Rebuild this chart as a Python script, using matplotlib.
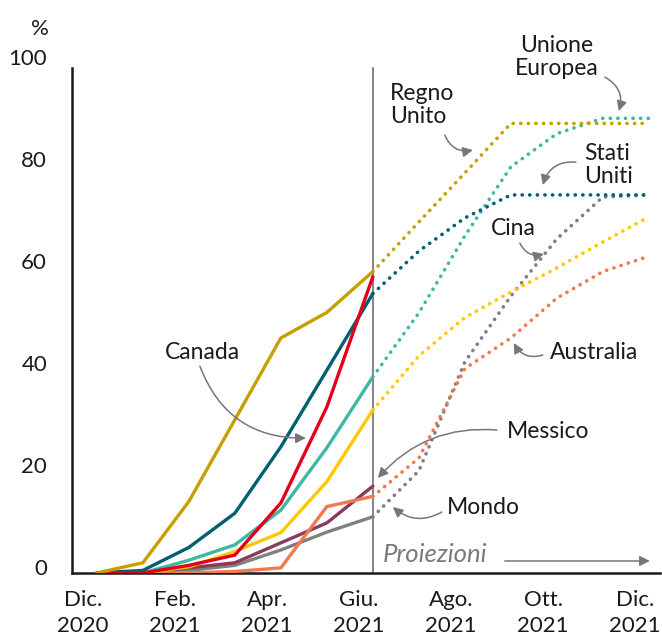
import numpy as np
import matplotlib
matplotlib.use("Agg")
import matplotlib.pyplot as plt
import matplotlib.transforms as mtransforms

plt.rcParams['font.family'] = ['Lato', 'DejaVu Sans']

# month index: 0 = Dec 2020 ... 12 = Dec 2021; 6 = June (last actual value)
months = np.arange(13)
tick_months = [0, 2, 4, 6, 8, 10, 12]
tick_labels = ["Dic.\n2020", "Feb.\n2021", "Apr.\n2021", "Giu.\n2021",
               "Ago.\n2021", "Ott.\n2021", "Dic.\n2021"]

# vaccinated share of population (%), Dec 2020 - Jun 2021 actual, Jun - Dec 2021 projected
uk = [0, 2, 14, 30, 46, 51, 59, 68.7, 78.3, 88, 88, 88, 88]
us = [0, 0.5, 5, 11.7, 24.7, 39.7, 54.7, 63, 69.5, 74, 74, 74, 74]
eu = [0, 0, 2.5, 5.5, 12.3, 24.5, 38.4, 50.9, 66, 79.5, 86, 89, 89]
canada = [0, 0, 1.5, 3.5, 13.7, 32.5, 58]
japan = [0, 0, 1.2, 4.2, 7.9, 17.9, 31.9, 42.5, 50, 55, 59.7, 64.8, 69.7]
australia = [0, 0, 0, 0.3, 1, 13, 15, 22.5, 40, 46, 53.8, 59, 62]
mexico = [0, 0, 1, 2, 5.9, 9.8, 17]
world = [0, 0, 0.5, 1.5, 4.5, 8, 11, 20, 41.3, 54.2, 65.4, 73.6, 74]

series = [
    (world, '#808080'),
    (mexico, '#8A3B5C'),
    (australia, '#F07A4E'),
    (japan, '#FFC800'),
    (eu, '#3DB8A3'),
    (us, '#00606F'),
    (canada, '#E2001A'),
    (uk, '#C89E00'),
]

fig = plt.figure(figsize=(6.62, 6.37), dpi=100)
ax = fig.add_axes([0.1088, 0.1005, 0.888, 0.802])

jun = 6
for values, color in series:
    values = np.asarray(values, dtype=float)
    x = months[:len(values)]
    ax.plot(x[:jun + 1], values[:jun + 1], color=color, lw=2.4,
            solid_capstyle='round', solid_joinstyle='miter', zorder=3)
    if len(values) > jun + 1:
        ax.plot(x[jun:], values[jun:], color=color, lw=2.6,
                linestyle=(0, (0.05, 2.05)), dash_capstyle='round', zorder=3)

ax.set_xlim(-0.54, 12.24)
ax.set_ylim(0, 100)

ax.axvline(jun, ymin=0, ymax=0.988, color='#707070', lw=1.2, zorder=2)

for side in ['top', 'right']:
    ax.spines[side].set_visible(False)
ax.spines['left'].set_bounds(0, 98.8)
for side in ['left', 'bottom']:
    ax.spines[side].set_linewidth(1.8)
    ax.spines[side].set_color('#1a1a1a')

ax.set_yticks([0, 20, 40, 60, 80, 100])
ax.tick_params(axis='y', length=0, pad=18, labelsize=16, labelcolor='#1a1a1a')
# y labels sit a little above their values
lift = mtransforms.ScaledTranslation(0, 4 / 72, fig.dpi_scale_trans)
for lab in ax.get_yticklabels():
    lab.set_transform(lab.get_transform() + lift)

ax.set_xticks([m - 0.3 for m in tick_months])
ax.set_xticklabels(tick_labels, linespacing=1.4)
ax.tick_params(axis='x', length=0, pad=12, labelsize=16, labelcolor='#1a1a1a')

fig.text(0.06, 0.955, "%", fontsize=16, color='#1a1a1a', ha='center', va='center')

arrow_color = '#777777'
label_kw = dict(fontsize=16.5, color='#1a1a1a')
arrow_style = '-|>,head_length=0.6,head_width=0.3'


def px(x, y):
    # pixel position in the figure to data coordinates
    return ((x - 97) / 46.0, (573 - y) / 5.11)


def pointer(start, end, rad):
    conn = "arc3" if rad == 0 else f"arc3,rad={rad}"
    ax.annotate("", xy=px(*end), xytext=px(*start),
                arrowprops=dict(arrowstyle=arrow_style, color=arrow_color, lw=1.1,
                                connectionstyle=conn, shrinkA=0, shrinkB=0))


ax.text(*px(203, 352), "Canada", ha='center', va='center', **label_kw)
pointer((200, 366), (306, 438), 0.35)

ax.text(*px(390, 105), "Regno\nUnito", ha='left', va='center', linespacing=1.15, **label_kw)
pointer((445, 135), (473, 150), 0.4)

ax.text(*px(557, 57), "Unione\nEuropea", ha='center', va='center', linespacing=1.15, **label_kw)
pointer((605, 77), (619, 111), -0.4)

ax.text(*px(584, 165), "Stati\nUniti", ha='left', va='center', linespacing=1.15, **label_kw)
pointer((576, 162), (543, 185), 0.4)

ax.text(*px(513, 228), "Cina", ha='center', va='center', **label_kw)
pointer((520, 243), (544, 254), 0.4)

ax.text(*px(550, 352), "Australia", ha='left', va='center', **label_kw)
pointer((543, 355), (514, 343), -0.4)

ax.text(*px(507, 431), "Messico", ha='left', va='center', **label_kw)
pointer((497, 430), (378, 478), 0.25)

ax.text(*px(447, 508), "Mondo", ha='left', va='center', **label_kw)
pointer((442, 512), (393, 507), -0.35)

ax.text(*px(383, 555), "Proiezioni", ha='left', va='center', style='italic',
        fontsize=18.5, color='#7a7a7a')
pointer((505, 561), (650, 561), 0)

fig.savefig("out.png", dpi=100)
